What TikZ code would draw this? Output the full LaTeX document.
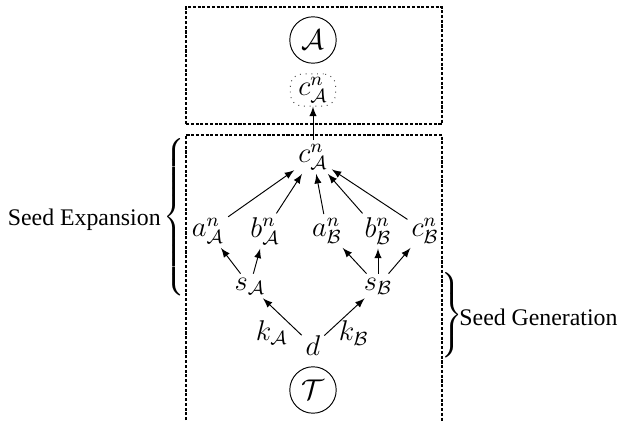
\documentclass[tikz,border=0pt]{standalone}
\usepackage{amsmath}
\usepackage{amssymb}
\usepackage{fontspec}
\setmainfont{Liberation Serif}
\usetikzlibrary{arrows}
\newcommand{\leftbr}[1]{$\left\{\rule[-#1]{0pt}{2\dimexpr#1\relax}\right.$}
\newcommand{\rightbr}[1]{$\left.\rule[-#1]{0pt}{2\dimexpr#1\relax}\right\}$}
\newcommand{\seed}[2]{$#1^n_{\mathcal{#2}}$}

\begin{document}
\begin{tikzpicture}[x=0.42pt,y=-0.42pt,>=latex,
    panel/.style={draw,dash pattern=on 1.3pt off 0.7pt,line width=0.5pt},
    party/.style={draw,circle,minimum size=19.5pt,inner sep=0pt,font=\large},
    msg/.style={draw=black!70,dotted,rounded corners=5pt,minimum width=19pt,minimum height=13.5pt,inner sep=1pt,font=\large},
    val/.style={inner sep=1.5pt,font=\large}]
    \useasboundingbox (0,0) rectangle (633,421);

    % the two panels
    \draw[panel] (186,124) -- (186,7) -- (442,7) -- (442,124) -- cycle;
    \draw[panel] (186,425) -- (186,135) -- (442,135) -- (442,425);

    \node[party] (A) at (313,40) {$\mathcal{A}$};
    \node[msg] (out) at (313,90) {\seed{c}{A}};
    \node[party] (T) at (313,390) {$\mathcal{T}$};

    \node[val] (c) at (313,157) {\seed{c}{A}};
    \node[val] (aA) at (208,231) {\seed{a}{A}};
    \node[val] (bA) at (265,231) {\seed{b}{A}};
    \node[val] (aB) at (327,231) {\seed{a}{B}};
    \node[val] (bB) at (378,231) {\seed{b}{B}};
    \node[val] (cB) at (425,231) {\seed{c}{B}};
    \node[val] (sA) at (250,286) {$s_{\mathcal{A}}$};
    \node[val] (sB) at (378,286) {$s_{\mathcal{B}}$};
    \node[val] (d) at (313,346) {$d$};

    \foreach \n in {aA,bA,aB,bB,cB} \draw[->] (\n) -- (c);
    \foreach \n in {aA,bA} \draw[->] (sA) -- (\n);
    \foreach \n in {aB,bB,cB} \draw[->] (sB) -- (\n);
    \draw[->] (d) -- node[val,anchor=north east,xshift=4pt] (kA) {$k_{\mathcal{A}}$} (sA);
    \draw[->] (d) -- node[val,anchor=north west,xshift=-4pt] (kB) {$k_{\mathcal{B}}$} (sB);
    \draw[->] (c) -- (out);

    % braces
    \node[inner sep=0pt] (expbrace) at (176,220) {\leftbr{33pt}};
    \node[anchor=east,inner sep=1pt] (exp) at (expbrace.west) {Seed Expansion};
    \node[inner sep=0pt] (genbrace) at (451,317) {\rightbr{17pt}};
    \node[anchor=west,inner sep=0pt] (gen) at (459,317) {Seed Generation};
\end{tikzpicture}
\end{document}
